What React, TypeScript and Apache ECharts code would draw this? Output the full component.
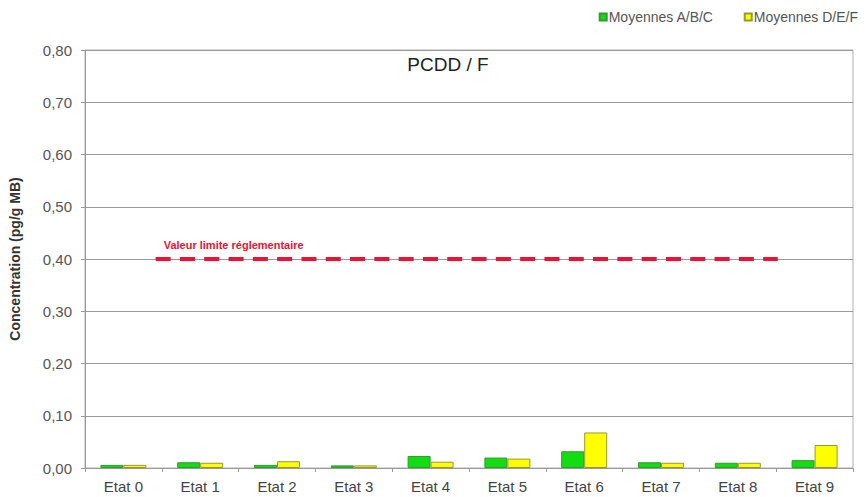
import React, { useEffect, useRef } from "react";
import * as echarts from "echarts";

const categories = ["Etat 0", "Etat 1", "Etat 2", "Etat 3", "Etat 4", "Etat 5", "Etat 6", "Etat 7", "Etat 8", "Etat 9"];
const moyennesABC = [0.006, 0.011, 0.006, 0.005, 0.023, 0.02, 0.032, 0.011, 0.01, 0.015];
const moyennesDEF = [0.006, 0.01, 0.013, 0.005, 0.012, 0.018, 0.068, 0.01, 0.01, 0.044];
const limitValue = 0.4;
const limitSpan = [0.42, 8.52];
const yTicks = { min: 0, max: 0.8, interval: 0.1 };

export default function App() {
  const ref = useRef<HTMLDivElement>(null);
  useEffect(() => {
    if (!ref.current) return;
    const chart = echarts.init(ref.current, undefined, { renderer: "svg" });
    const font = "Arial, 'Liberation Sans', sans-serif";
    chart.setOption({
      animation: false,
      backgroundColor: "#fff",
      title: {
        text: "PCDD / F",
        left: 443,
        top: 50,
        textAlign: "center",
        textStyle: { fontFamily: font, fontSize: 19, fontWeight: "normal", color: "#222" },
      },
      legend: {
        right: 3,
        top: 5,
        itemWidth: 7,
        itemHeight: 7,
        itemGap: 30,
        textStyle: { fontFamily: font, fontSize: 14, color: "#555", padding: [0, 0, 0, -3] },
        data: [
          { name: "Moyennes A/B/C", icon: "rect" },
          { name: "Moyennes D/E/F", icon: "rect" },
        ],
      },
      grid: {
        left: 84,
        right: 13,
        top: 50,
        bottom: 29,
        show: true,
        borderColor: "#b0b0b0",
        borderWidth: 1,
      },
      xAxis: [
        {
          type: "category",
          data: categories,
          axisLine: { lineStyle: { color: "#999" } },
          axisTick: { show: true, length: 4, lineStyle: { color: "#999" } },
          axisLabel: { fontFamily: font, fontSize: 15, color: "#444", margin: 11 },
        },
        {
          type: "value",
          min: -0.5,
          max: 9.5,
          show: false,
        },
      ],
      yAxis: {
        type: "value",
        min: yTicks.min,
        max: yTicks.max,
        interval: yTicks.interval,
        name: "Concentration (pg/g MB)",
        nameLocation: "middle",
        nameGap: 63,
        nameTextStyle: { fontFamily: font, fontSize: 14, fontWeight: "bold", color: "#333" },
        axisLine: { show: true, onZero: false, lineStyle: { color: "#999" } },
        axisTick: { show: true, length: 4, lineStyle: { color: "#999" } },
        axisLabel: {
          fontFamily: font,
          fontSize: 15,
          color: "#555",
          margin: 13,
          formatter: (v: number) => v.toFixed(2).replace(".", ","),
        },
        splitLine: { lineStyle: { color: "#999", width: 1 } },
      },
      series: [
        {
          name: "Moyennes A/B/C",
          type: "bar",
          data: moyennesABC,
          barWidth: 23,
          barGap: "0%",
          itemStyle: { color: "#11dd11", borderColor: "#339933", borderWidth: 1 },
        },
        {
          name: "Moyennes D/E/F",
          type: "bar",
          data: moyennesDEF,
          barWidth: 23,
          barGap: "0%",
          itemStyle: { color: "#ffff00", borderColor: "#999933", borderWidth: 1 },
        },
        {
          name: "Valeur limite",
          type: "line",
          xAxisIndex: 1,
          symbol: "circle",
          symbolSize: 0,
          showSymbol: true,
          lineStyle: { color: "#ee1133", width: 4, type: [15, 9.3] },
          itemStyle: { color: "#ee1133" },
          data: [
            {
              value: [limitSpan[0], limitValue],
              label: {
                show: true,
                position: "top",
                align: "left",
                offset: [8, -4],
                formatter: "Valeur limite réglementaire",
                fontFamily: font,
                fontSize: 11,
                fontWeight: "bold",
                color: "#ee1133",
              },
            },
            { value: [limitSpan[1], limitValue] },
          ],
          z: 5,
        },
      ],
    });
    return () => chart.dispose();
  }, []);
  return <div ref={ref} style={{ position: "fixed", left: 0, top: 0, width: 866, height: 497 }} />;
}
